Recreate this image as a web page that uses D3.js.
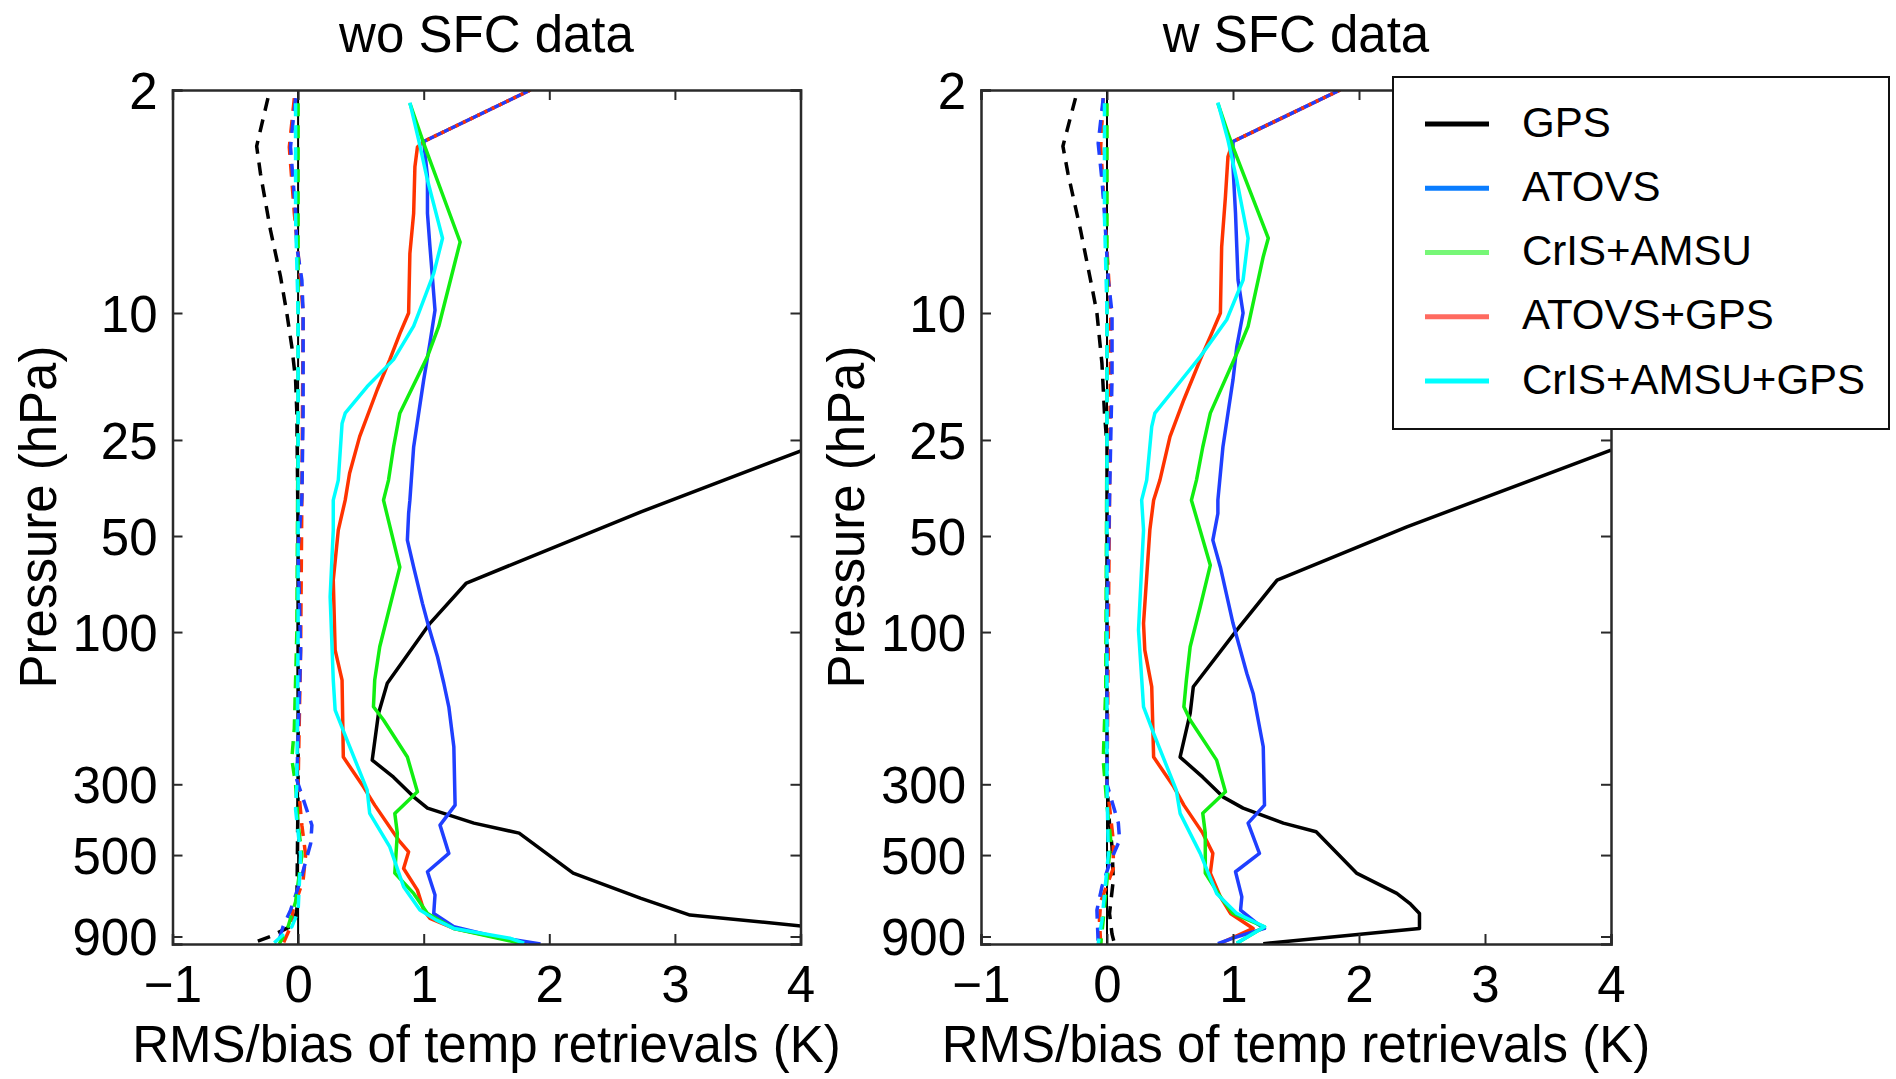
<!DOCTYPE html>
<html>
<head>
<meta charset="utf-8">
<script src="https://cdn.jsdelivr.net/npm/d3@7"></script>
<style>
  html, body { margin: 0; padding: 0; background: #fff; }
  svg { display: block; }
  text { font-family: "Liberation Sans", Arial, Helvetica, sans-serif; fill: #000; }
</style>
</head>
<body>
<svg id="chart" width="1896" height="1079"></svg>
<script>
// ---------------- DATA ----------------
const panelTitles = ["wo SFC data", "w SFC data"];
const xTickValues = [-1, 0, 1, 2, 3, 4];
const pressureTicks = [2, 10, 25, 50, 100, 300, 500, 900];
const xLabel = "RMS/bias of temp retrievals (K)";
const yLabel = "Pressure (hPa)";
const seriesNames = ["GPS", "ATOVS", "CrIS+AMSU", "ATOVS+GPS", "CrIS+AMSU+GPS"];
const lineColors = ["#000000", "#1f3fff", "#11ee11", "#ff3300", "#00ffff"];
const legendColors = ["#000000", "#0a7dff", "#77f777", "#ff6a60", "#00ffff"];

// Each profile: [pressure (hPa), value (K)]
// ---- wo SFC data : RMS ----
const woGPS = [[26.9,4.02],[42.0,2.73],[70.2,1.34],[93.9,1.05],[144.7,0.71],[179.9,0.64],[252,0.59],[284.9,0.76],[328.5,0.92],[356.3,1.03],[397,1.40],[426.8,1.76],[569.5,2.19],[683.9,2.73],[771,3.12],[835,4.02]];
const woATOVS = [[2,1.85],[2.90,1.00],[3.74,1.03],[4.87,1.03],[6.2,1.05],[9.8,1.09],[12.4,1.05],[16.2,1.00],[20.6,0.96],[26.3,0.92],[38.6,0.89],[42.5,0.88],[51.5,0.87],[62.6,0.92],[81.3,0.99],[96.2,1.04],[119.5,1.11],[144.7,1.16],[171.5,1.20],[228.8,1.24],[348.7,1.25],[402.8,1.13],[494,1.20],[564,1.03],[667,1.09],[762,1.08],[839,1.24],[900,1.56],[950,1.93]];
const woCrIS = [[2.2,0.89],[2.94,1.00],[5.99,1.29],[7.16,1.24],[11.0,1.12],[13.7,1.03],[20.6,0.81],[26.3,0.76],[33.4,0.72],[38.6,0.68],[62.6,0.81],[83.3,0.73],[111.2,0.65],[141.4,0.61],[171.5,0.60],[188.7,0.68],[246.5,0.87],[316.8,0.95],[370.2,0.77],[426.8,0.79],[569.5,0.77],[659.5,0.92],[761.9,1.03],[849,1.24],[945,1.77]];
const woATOVSGPS = [[2,1.85],[2.90,1.00],[3.02,0.95],[3.48,0.93],[4.87,0.92],[6.5,0.89],[10,0.88],[11.6,0.81],[14,0.73],[17.4,0.63],[24.4,0.49],[31.8,0.41],[38.6,0.375],[47.9,0.32],[68.7,0.28],[113.9,0.295],[141.4,0.35],[246.5,0.36],[305.5,0.52],[348.7,0.61],[448.8,0.80],[488.4,0.88],[550.7,0.84],[643.9,0.95],[743.9,1.00],[790,1.05],[849,1.24],[945,1.82]];
const woCrISGPS = [[2.19,0.89],[2.87,0.96],[3.83,1.03],[5.83,1.15],[7.51,1.08],[10,0.96],[11,0.92],[14,0.76],[17,0.55],[20.6,0.375],[22.2,0.35],[33.4,0.32],[38.6,0.28],[47.9,0.28],[77.5,0.255],[141.4,0.28],[175.7,0.295],[218.1,0.39],[312.9,0.55],[370.2,0.57],[471.1,0.73],[628.7,0.84],[743.9,0.97],[799.6,1.10],[849,1.24],[912,1.69],[945,1.80]];
// ---- wo SFC data : bias ----
const woGPSbias = [[2.12,-0.24],[3.0,-0.33],[3.65,-0.30],[5.5,-0.22],[7.69,-0.14],[10,-0.09],[12.76,-0.05],[16.2,-0.02],[20.6,-0.01],[50,0.0],[300,0.0],[744,-0.01],[829,-0.04],[900,-0.22],[950,-0.38]];
const woATOVSbias = [[2.12,-0.02],[2.73,-0.05],[3.02,-0.06],[3.83,-0.04],[4.87,-0.02],[6.2,-0.01],[7.88,0.03],[10,0.04],[20.6,0.04],[38,0.03],[55,0.0],[114,0.02],[291,-0.01],[403,0.11],[460,0.10],[599,0.02],[744,-0.06],[839,-0.12],[950,-0.16]];
const woCrISbias = [[2.2,0.0],[20,0.0],[100,-0.01],[200,-0.03],[250,-0.05],[300,-0.02],[400,0.0],[500,0.03],[700,-0.02],[839,-0.08],[950,-0.15]];
const woATOVSGPSbias = [[2.12,-0.03],[3.02,-0.07],[4.87,-0.03],[7.88,0.02],[10,0.04],[38,0.03],[114,0.02],[300,0.0],[403,0.03],[500,0.06],[599,0.04],[744,-0.04],[839,-0.06],[950,-0.12]];
const woCrISGPSbias = [[2.2,-0.02],[5,-0.02],[10,0.0],[100,0.0],[300,-0.01],[360,-0.02],[500,0.02],[750,0.0],[839,-0.05],[950,-0.2]];

// ---- w SFC data : RMS ----
const wGPS = [[26.9,4.0],[46.8,2.38],[68.7,1.35],[98.6,1.03],[148.4,0.685],[179.9,0.66],[246.5,0.58],[285,0.76],[328.5,0.92],[356.3,1.08],[397,1.40],[422.7,1.66],[569.5,1.98],[659.5,2.30],[713,2.41],[762,2.48],[849,2.48],[948,1.24]];
const wATOVS = [[2,1.85],[2.9,1.00],[3.48,1.00],[4.87,1.02],[6.2,1.03],[7.88,1.04],[10,1.08],[12.76,1.03],[16.2,1.00],[20.6,0.96],[26.3,0.92],[38.6,0.88],[42.5,0.88],[51.5,0.84],[62.6,0.90],[93.9,1.00],[134.8,1.11],[155.7,1.16],[228.8,1.24],[348.7,1.25],[397,1.12],[494,1.21],[564,1.02],[676,1.07],[744,1.06],[819,1.19],[849,1.25],[910,1.00],[948,0.88]];
const wCrIS = [[2.2,0.88],[2.73,0.96],[3.02,1.00],[5.83,1.28],[6.66,1.24],[11.0,1.12],[13.4,1.03],[20.6,0.82],[26.3,0.76],[33.4,0.71],[38.6,0.67],[61.7,0.82],[83.3,0.74],[111.2,0.66],[141.4,0.63],[171.5,0.61],[188.7,0.66],[252,0.87],[316.8,0.94],[370,0.76],[427,0.78],[569.5,0.78],[676,0.90],[762,1.00],[839,1.25],[945,1.03]];
const wATOVSGPS = [[2,1.85],[2.9,1.00],[3.24,0.96],[4.32,0.94],[6.2,0.91],[10,0.90],[11.6,0.83],[14,0.74],[18.7,0.61],[24.4,0.50],[33.4,0.42],[38.6,0.37],[47.9,0.34],[93.9,0.29],[113.9,0.30],[148.4,0.355],[246.5,0.37],[305.5,0.53],[348.7,0.61],[426.8,0.76],[494,0.84],[569.5,0.82],[676,0.90],[762,0.98],[819,1.10],[849,1.16],[945,0.90]];
const wCrISGPS = [[2.19,0.88],[2.87,0.96],[3.83,1.03],[5.83,1.12],[7.88,1.08],[10.5,0.95],[13.7,0.74],[17,0.55],[20.6,0.38],[22.7,0.355],[33.4,0.315],[38.6,0.275],[47.9,0.29],[98.6,0.25],[171.5,0.29],[207.8,0.37],[312.9,0.55],[370,0.58],[494,0.74],[659.5,0.87],[762,1.03],[839,1.25],[945,1.03]];
// ---- w SFC data : bias ----
const wGPSbias = [[2.12,-0.25],[3.0,-0.35],[3.65,-0.31],[5.5,-0.21],[8.27,-0.12],[10,-0.08],[14.4,-0.04],[20.6,-0.02],[26,0.0],[300,0.0],[400,0.02],[471,0.04],[599,0.05],[762,0.02],[885,0.04],[950,0.06]];
const wATOVSbias = [[2.12,-0.03],[2.94,-0.07],[3.83,-0.04],[4.87,-0.02],[7.88,0.01],[10,0.04],[16,0.04],[38,0.02],[100,0.0],[300,0.0],[397,0.09],[449,0.10],[532,0.02],[628,-0.04],[744,-0.08],[945,-0.07]];
const wCrISbias = [[2.2,0.0],[20,0.0],[150,-0.01],[252,-0.03],[350,0.0],[450,0.03],[600,0.0],[800,-0.03],[950,-0.05]];
const wATOVSGPSbias = [[2.12,-0.03],[3.02,-0.05],[10,0.03],[38,0.02],[300,0.0],[450,0.05],[550,0.05],[700,-0.05],[800,-0.06],[950,-0.05]];
const wCrISGPSbias = [[2.2,-0.02],[5,-0.02],[10,0.0],[300,0.0],[500,0.01],[800,-0.04],[950,-0.07]];

// ---------------- LAYOUT ----------------
const svg = d3.select("#chart");
const plotTop = 90, plotBottom = 944;
const panels = [
  { title: panelTitles[0], x0: 172.5, x1: 800.5,
    rms:  [woGPS, woATOVS, woCrIS, woATOVSGPS, woCrISGPS],
    bias: [woGPSbias, woATOVSbias, woCrISbias, woATOVSGPSbias, woCrISGPSbias] },
  { title: panelTitles[1], x0: 981, x1: 1611,
    rms:  [wGPS, wATOVS, wCrIS, wATOVSGPS, wCrISGPS],
    bias: [wGPSbias, wATOVSbias, wCrISbias, wATOVSGPSbias, wCrISGPSbias] }
];
const drawOrder = [0, 3, 1, 2, 4];
const fs = 51;
const tickLen = 10;
const fmtMinus = v => v < 0 ? "\u2212" + Math.abs(v) : String(v);

panels.forEach((P, pi) => {
  const x = d3.scaleLinear().domain([-1, 4]).range([P.x0, P.x1]);
  const y = d3.scaleLog().domain([2, 950]).range([plotTop, plotBottom]);
  const g = svg.append("g");
  const clipId = "clip" + pi;
  svg.append("clipPath").attr("id", clipId)
    .append("rect").attr("x", P.x0).attr("y", plotTop)
    .attr("width", P.x1 - P.x0).attr("height", plotBottom - plotTop);

  // zero line
  g.append("line").attr("x1", x(0)).attr("x2", x(0)).attr("y1", plotTop).attr("y2", plotBottom)
    .attr("stroke", "#000").attr("stroke-width", 2);

  const line = d3.line().x(d => x(d[1])).y(d => y(d[0]));
  const lines = g.append("g").attr("clip-path", `url(#${clipId})`);

  // bias (dashed)
  drawOrder.forEach(i => {
    lines.append("path").datum(P.bias[i]).attr("d", line)
      .attr("fill", "none").attr("stroke", lineColors[i]).attr("stroke-width", 3.5)
      .attr("stroke-dasharray", "13,9").attr("stroke-linejoin", "round");
  });
  // RMS (solid)
  drawOrder.forEach(i => {
    lines.append("path").datum(P.rms[i]).attr("d", line)
      .attr("fill", "none").attr("stroke", lineColors[i]).attr("stroke-width", 3.5)
      .attr("stroke-linejoin", "round");
  });
  // ATOVS+GPS coincides with ATOVS at the top: show it interleaved
  lines.append("path").datum(P.rms[3].slice(0, 2)).attr("d", line)
    .attr("fill", "none").attr("stroke", lineColors[3]).attr("stroke-width", 3.5)
    .attr("stroke-dasharray", "3,5");

  // axes
  const axB = g.append("g").attr("transform", `translate(0,${plotBottom})`)
    .call(d3.axisBottom(x).tickValues(xTickValues).tickSize(-tickLen).tickPadding(20).tickFormat(fmtMinus));
  const axT = g.append("g").attr("transform", `translate(0,${plotTop})`)
    .call(d3.axisTop(x).tickValues(xTickValues).tickSize(-tickLen).tickFormat(""));
  const axL = g.append("g").attr("transform", `translate(${P.x0},0)`)
    .call(d3.axisLeft(y).tickValues(pressureTicks).tickSize(-tickLen).tickPadding(15).tickFormat(d3.format("d")));
  const axR = g.append("g").attr("transform", `translate(${P.x1},0)`)
    .call(d3.axisRight(y).tickValues(pressureTicks).tickSize(-tickLen).tickFormat(""));
  [axB, axT, axL, axR].forEach(a => {
    a.select(".domain").attr("stroke", "#2a2a2a").attr("stroke-width", 2.5);
    a.selectAll(".tick line").attr("stroke", "#2a2a2a").attr("stroke-width", 2);
    a.selectAll("text").attr("font-size", fs).attr("font-family", '"Liberation Sans", Arial, sans-serif').attr("fill", "#000");
  });
  axB.selectAll(".tick text").attr("dy", "0.75em");
  axL.selectAll(".tick text").attr("dy", "0.36em");

  // title
  g.append("text").attr("x", (P.x0 + P.x1) / 2).attr("y", 52)
    .attr("text-anchor", "middle").attr("font-size", fs).text(P.title);
  // x label
  g.append("text").attr("x", (P.x0 + P.x1) / 2).attr("y", 1062)
    .attr("text-anchor", "middle").attr("font-size", fs).text(xLabel);
  // y label
  g.append("text").attr("transform", `translate(${P.x0 - 117},${(plotTop + plotBottom) / 2}) rotate(-90)`)
    .attr("text-anchor", "middle").attr("font-size", fs).text(yLabel);
});

// ---------------- LEGEND ----------------
const lg = svg.append("g");
lg.append("rect").attr("x", 1393).attr("y", 77).attr("width", 496).attr("height", 352)
  .attr("fill", "#fff").attr("stroke", "#111").attr("stroke-width", 2);
const legY = d3.scalePoint().domain(seriesNames).range([124, 381]);
seriesNames.forEach((name, i) => {
  lg.append("line").attr("x1", 1425).attr("x2", 1489).attr("y1", legY(name)).attr("y2", legY(name))
    .attr("stroke", legendColors[i]).attr("stroke-width", 5);
  lg.append("text").attr("x", 1522).attr("y", legY(name)).attr("dy", "0.30em")
    .attr("font-size", 42).text(name);
});
</script>
</body>
</html>
